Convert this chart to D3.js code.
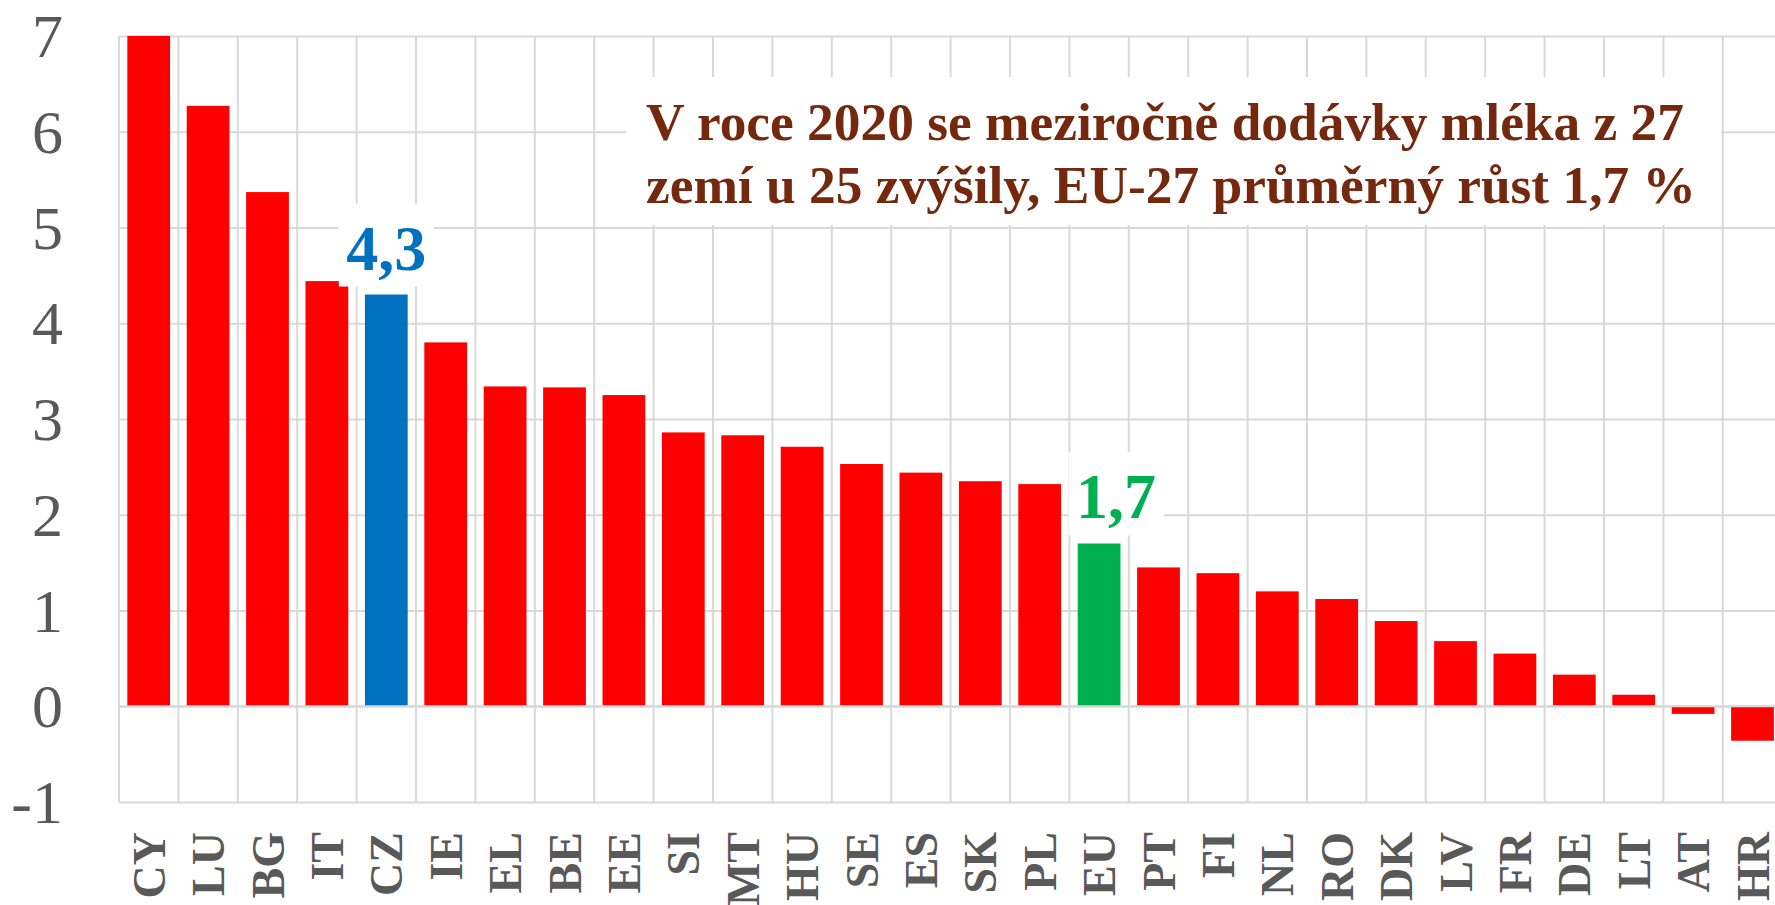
<!DOCTYPE html>
<html lang="cs">
<head>
<meta charset="UTF-8" />
<title>Dodávky mléka 2020</title>
<script src="https://d3js.org/d3.v7.min.js"></script>
<style>
  html, body { margin: 0; padding: 0; background: #fff; overflow: hidden; }
  svg { display: block; font-family: "Liberation Serif", "Times New Roman", serif; }
  .grid line, .grid path { stroke: #d9d9d9; stroke-width: 2; }
</style>
</head>
<body>
<svg width="1775" height="905"></svg>
<script>
// meziroční změna dodávek mléka 2020 (%)
const countries = ["CY", "LU", "BG", "IT", "CZ", "IE", "EL", "BE", "EE", "SI", "MT", "HU", "SE", "ES",
                   "SK", "PL", "EU", "PT", "FI", "NL", "RO", "DK", "LV", "FR", "DE", "LT", "AT", "HR"];
const growth = [7.0, 6.27, 5.37, 4.44, 4.3, 3.80, 3.34, 3.33, 3.25, 2.86, 2.83, 2.71, 2.53, 2.44,
                2.35, 2.32, 1.7, 1.45, 1.39, 1.20, 1.12, 0.89, 0.68, 0.55, 0.33, 0.12, -0.08, -0.36];
const yTicks = [-1, 0, 1, 2, 3, 4, 5, 6, 7];
const labelled = ["CZ", "EU"];
const note = ["V roce 2020 se meziročně dodávky mléka z 27",
              "zemí u 25 zvýšily, EU-27 průměrný růst 1,7 %"];

const svg = d3.select("svg");
const plotLeft = 119, plotTop = 36, plotBottom = 802;
const step = 59.4;

const x = d3.scaleBand()
    .domain(countries)
    .range([plotLeft, plotLeft + step * countries.length])
    .padding(0);
const y = d3.scaleLinear().domain([-1, 7]).range([plotBottom, plotTop]);

const cs = d3.formatLocale({ decimal: ",", thousands: " ", grouping: [3], currency: ["", " Kč"] });
const fmt = cs.format(".1f");

const colorOf = c => c === "CZ" ? "#0070c0" : c === "EU" ? "#00b050" : "#ff0000";

// horizontal gridlines
svg.append("g")
    .attr("class", "grid")
    .attr("transform", `translate(${plotLeft},0)`)
    .call(d3.axisLeft(y).tickValues(yTicks).tickSize(-(x.range()[1] - plotLeft)).tickFormat(""))
    .call(g => g.select(".domain").remove());

// vertical category gridlines
svg.append("g")
    .attr("class", "grid")
    .selectAll("line")
    .data(countries)
    .join("line")
    .attr("x1", d => x(d)).attr("x2", d => x(d))
    .attr("y1", plotTop).attr("y2", plotBottom);

// y tick labels
svg.append("g")
    .selectAll("text")
    .data(yTicks)
    .join("text")
    .attr("x", 63)
    .attr("y", d => y(d))
    .attr("dy", "0.34em")
    .attr("text-anchor", "end")
    .attr("fill", "#595959")
    .style("font-size", "62px")
    .text(d => d);

// bars
const barW = x.bandwidth() * 0.72;
svg.append("g")
    .selectAll("rect")
    .data(countries)
    .join("rect")
    .attr("x", d => x(d) + (x.bandwidth() - barW) / 2)
    .attr("y", (d, i) => y(Math.max(0, growth[i])))
    .attr("width", barW)
    .attr("height", (d, i) => Math.abs(y(growth[i]) - y(0)))
    .attr("fill", d => colorOf(d));

// zero axis over the bars
svg.append("line")
    .attr("x1", plotLeft).attr("x2", x.range()[1])
    .attr("y1", y(0)).attr("y2", y(0))
    .attr("stroke", "#d9d9d9").attr("stroke-width", 2);

// category labels
svg.append("g")
    .selectAll("text")
    .data(countries)
    .join("text")
    .attr("transform", d => `translate(${x(d) + x.bandwidth() / 2 + 16},832) rotate(-90)`)
    .attr("text-anchor", "end")
    .attr("fill", "#595959")
    .style("font-size", "46px")
    .style("font-weight", "bold")
    .text(d => d);

// data labels with white boxes (EU label sits a bit right of its bar)
const labelDx = { CZ: 0, EU: 17 };
svg.append("g")
    .selectAll("g")
    .data(labelled)
    .join("g")
    .each(function (c) {
        const i = countries.indexOf(c);
        const cx = x(c) + x.bandwidth() / 2 + labelDx[c];
        const base = y(growth[i]) - 25;
        const g = d3.select(this);
        g.append("rect")
            .attr("fill", "#fff")
            .attr("x", cx - 47.5).attr("width", 95)
            .attr("y", base - 66).attr("height", 83);
        g.append("text")
            .attr("x", cx).attr("y", base)
            .attr("text-anchor", "middle")
            .attr("fill", colorOf(c))
            .style("font-size", "64px")
            .style("font-weight", "bold")
            .text(fmt(growth[i]));
    });

// note box
svg.append("rect")
    .attr("x", 626).attr("y", 77)
    .attr("width", 1095).attr("height", 148)
    .attr("fill", "#fff");
svg.append("g")
    .selectAll("text")
    .data(note)
    .join("text")
    .attr("x", 646)
    .attr("y", (d, i) => 140 + i * 63)
    .attr("fill", "#74290f")
    .style("font-size", "53.4px")
    .style("font-weight", "bold")
    .text(d => d);
</script>
</body>
</html>
